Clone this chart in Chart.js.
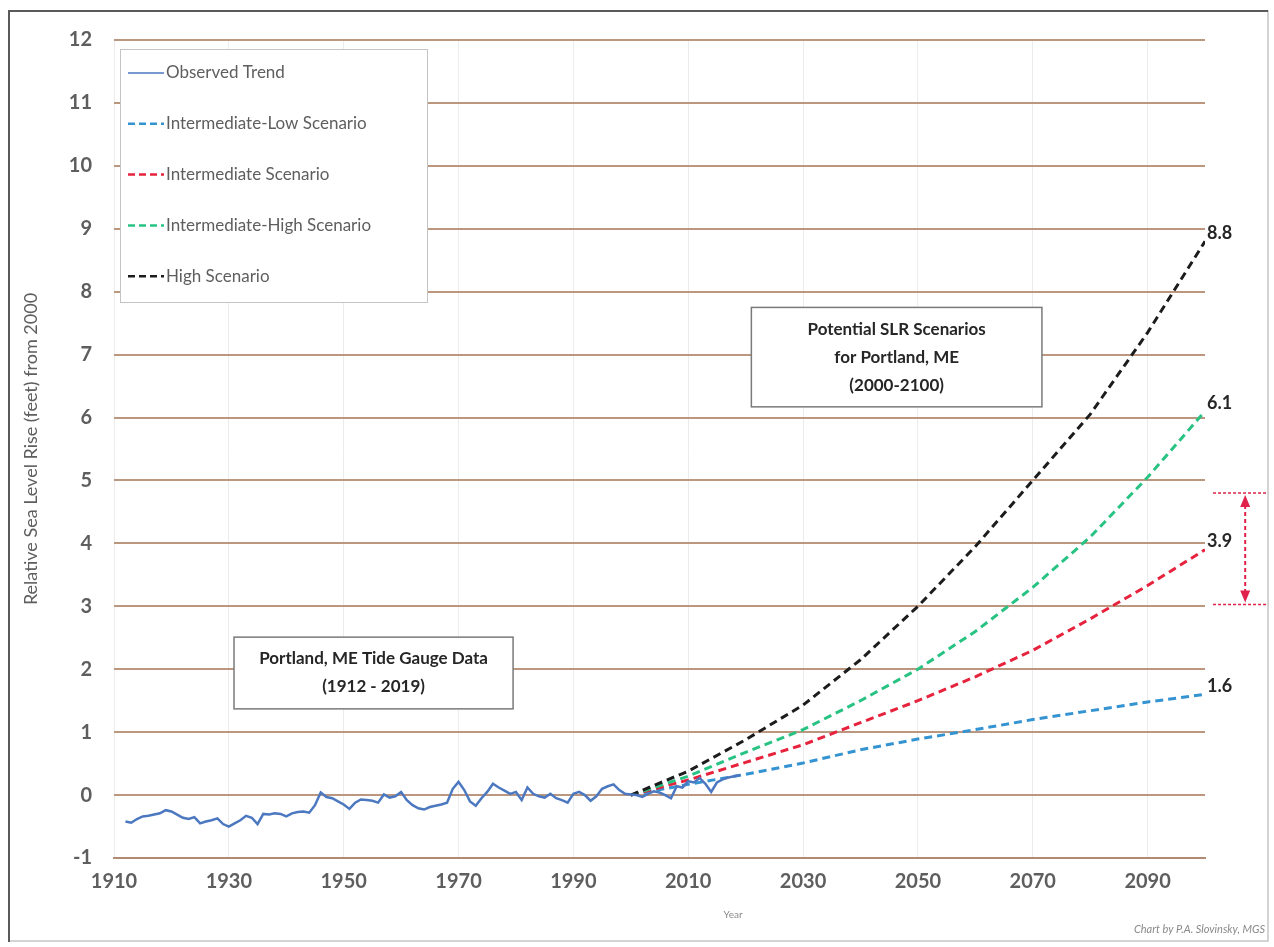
<!DOCTYPE html>
<html>
<head>
<meta charset="utf-8">
<script src="https://cdn.jsdelivr.net/npm/chart.js@4.4.1/dist/chart.umd.min.js"></script>
<style>
  body { margin: 0; background: #fff; }
  canvas { display: block; }
</style>
</head>
<body>
<canvas id="grafico" width="1274" height="947"></canvas>
<script>
// ================= DADOS =================
const anosObservados = [
  1912, 1913, 1914, 1915, 1916, 1917, 1918, 1919, 1920, 1921,
  1922, 1923, 1924, 1925, 1926, 1927, 1928, 1929, 1930, 1931,
  1932, 1933, 1934, 1935, 1936, 1937, 1938, 1939, 1940, 1941,
  1942, 1943, 1944, 1945, 1946, 1947, 1948, 1949, 1950, 1951,
  1952, 1953, 1954, 1955, 1956, 1957, 1958, 1959, 1960, 1961,
  1962, 1963, 1964, 1965, 1966, 1967, 1968, 1969, 1970, 1971,
  1972, 1973, 1974, 1975, 1976, 1977, 1978, 1979, 1980, 1981,
  1982, 1983, 1984, 1985, 1986, 1987, 1988, 1989, 1990, 1991,
  1992, 1993, 1994, 1995, 1996, 1997, 1998, 1999, 2000, 2001,
  2002, 2003, 2004, 2005, 2006, 2007, 2008, 2009, 2010, 2011,
  2012, 2013, 2014, 2015, 2016, 2017, 2018, 2019
];
const nivelObservado = [
  -0.42, -0.44, -0.38, -0.34, -0.33, -0.31, -0.29, -0.24, -0.26, -0.31,
  -0.36, -0.38, -0.35, -0.45, -0.42, -0.40, -0.37, -0.46, -0.50, -0.45,
  -0.40, -0.33, -0.36, -0.46, -0.30, -0.31, -0.29, -0.30, -0.34, -0.29,
  -0.27, -0.26, -0.28, -0.16, 0.04, -0.03, -0.05, -0.10, -0.15, -0.22,
  -0.12, -0.07, -0.08, -0.09, -0.12, 0.01, -0.04, -0.02, 0.05, -0.08,
  -0.16, -0.21, -0.23, -0.19, -0.17, -0.15, -0.12, 0.10, 0.21, 0.08,
  -0.10, -0.17, -0.05, 0.05, 0.18, 0.12, 0.07, 0.02, 0.05, -0.08,
  0.12, 0.02, -0.02, -0.04, 0.02, -0.05, -0.08, -0.12, 0.02, 0.05,
  0.00, -0.09, -0.02, 0.10, 0.14, 0.17, 0.08, 0.02, 0.01, 0.00,
  -0.03, 0.02, 0.06, 0.04, 0.00, -0.05, 0.14, 0.12, 0.22, 0.20,
  0.27, 0.18, 0.05, 0.20, 0.25, 0.28, 0.30, 0.32
];

const anosCenarios = [2000, 2010, 2020, 2030, 2040, 2050, 2060, 2070, 2080, 2090, 2100];
const cenarioIntBaixo = [0, 0.17, 0.33, 0.51, 0.72, 0.89, 1.04, 1.20, 1.34, 1.48, 1.6];
const cenarioIntermediario = [0, 0.24, 0.52, 0.80, 1.15, 1.50, 1.88, 2.30, 2.80, 3.33, 3.9];
const cenarioIntAlto = [0, 0.30, 0.68, 1.04, 1.50, 2.00, 2.60, 3.30, 4.10, 5.05, 6.1];
const cenarioAlto = [0, 0.38, 0.88, 1.43, 2.15, 3.00, 3.95, 5.00, 6.05, 7.35, 8.8];

const rotulosX = [1910, 1930, 1950, 1970, 1990, 2010, 2030, 2050, 2070, 2090];
const rotulosY = [-1, 0, 1, 2, 3, 4, 5, 6, 7, 8, 9, 10, 11, 12];

// faixa marcada pela seta vermelha (pés)
const faixaSeta = [3.03, 4.8];

// ================= ESTILO =================
const fonte = 'Lato, "Noto Sans", sans-serif';
const cinzaTexto = '#5e5e5e';

function pontos(xs, ys) {
  return xs.map((x, i) => ({ x: x, y: ys[i] }));
}

function serieCenario(label, ys, cor, ordem) {
  return {
    label: label,
    data: pontos(anosCenarios, ys),
    borderColor: cor,
    borderWidth: 3,
    borderDash: [8, 5],
    pointRadius: 0,
    tension: 0,
    order: ordem,
    fill: false
  };
}

// ================= PLUGINS =================
// fundo branco e moldura
const moldura = {
  id: 'moldura',
  beforeDraw(chart) {
    const c = chart.ctx;
    c.save();
    c.fillStyle = '#fff';
    c.fillRect(0, 0, chart.width, chart.height);
    c.restore();
  },
  afterDraw(chart) {
    const c = chart.ctx;
    c.save();
    c.lineWidth = 2;
    c.strokeStyle = '#d4d4d4';
    c.strokeRect(9, 11, 1259, 930);
    c.strokeStyle = '#5a5a5a';
    c.beginPath();
    c.moveTo(9, 942);
    c.lineTo(9, 11);
    c.lineTo(1268, 11);
    c.stroke();

    // título do eixo x e crédito
    c.fillStyle = '#8a8a8a';
    c.font = '10px ' + fonte;
    c.textAlign = 'center';
    c.textBaseline = 'middle';
    c.fillText('Year', 733, 915);
    c.font = 'italic 11px ' + fonte;
    c.textAlign = 'right';
    c.fillText('Chart by P.A. Slovinsky, MGS', 1265, 929);

    // título do eixo y
    c.translate(31, (chart.chartArea.top + chart.chartArea.bottom) / 2);
    c.rotate(-Math.PI / 2);
    c.font = '18px ' + fonte;
    c.fillStyle = cinzaTexto;
    c.textAlign = 'center';
    c.fillText('Relative Sea Level Rise (feet) from 2000', 0, 0);
    c.restore();
  }
};

// legenda dentro da área do gráfico
const legendaInterna = {
  id: 'legendaInterna',
  afterDatasetsDraw(chart) {
    const c = chart.ctx;
    const x0 = 120, y0 = 49, w = 307, h = 253;
    c.save();
    c.fillStyle = '#fff';
    c.fillRect(x0, y0, w, h);
    c.strokeStyle = '#c4c4c4';
    c.lineWidth = 1;
    c.strokeRect(x0 + 0.5, y0 + 0.5, w, h);

    c.font = '17px ' + fonte;
    c.textBaseline = 'middle';
    c.textAlign = 'left';
    chart.data.datasets.forEach((ds, i) => {
      const y = 73 + i * 50.8;
      c.strokeStyle = ds.borderColor;
      c.lineWidth = ds.borderDash ? 2.5 : 1.5;
      c.setLineDash(ds.borderDash ? [7, 4] : []);
      c.beginPath();
      c.moveTo(128, y);
      c.lineTo(164, y);
      c.stroke();
      c.setLineDash([]);
      c.fillStyle = cinzaTexto;
      c.fillText(ds.label, 166, y);
    });
    c.restore();
  }
};

// caixas de texto ancoradas nas escalas
const caixasTexto = [
  { x: [2021, 2071.6], y: [7.75, 6.17], linhas: ['Potential SLR Scenarios', 'for Portland, ME', '(2000-2100)'], passo: 28 },
  { x: [1930.9, 1979.5], y: [2.51, 1.37], linhas: ['Portland, ME Tide Gauge Data', '(1912 - 2019)'], passo: 28 }
];

const caixas = {
  id: 'caixas',
  afterDatasetsDraw(chart) {
    const c = chart.ctx;
    const sx = chart.scales.x, sy = chart.scales.y;
    c.save();
    caixasTexto.forEach(cx => {
      const l = sx.getPixelForValue(cx.x[0]);
      const r = sx.getPixelForValue(cx.x[1]);
      const t = sy.getPixelForValue(cx.y[0]);
      const b = sy.getPixelForValue(cx.y[1]);
      c.fillStyle = '#fff';
      c.fillRect(l, t, r - l, b - t);
      c.strokeStyle = '#7a7a7a';
      c.lineWidth = 1.5;
      c.strokeRect(l, t, r - l, b - t);
      c.fillStyle = '#262626';
      c.font = 'bold 17px ' + fonte;
      c.textAlign = 'center';
      c.textBaseline = 'middle';
      const meio = (t + b) / 2;
      const n = cx.linhas.length;
      cx.linhas.forEach((txt, k) => {
        c.fillText(txt, (l + r) / 2, meio + (k - (n - 1) / 2) * cx.passo);
      });
    });
    c.restore();
  }
};

// valores finais dos cenários
const rotulosFinais = {
  id: 'rotulosFinais',
  afterDatasetsDraw(chart) {
    const c = chart.ctx;
    c.save();
    c.font = 'bold 18px ' + fonte;
    c.fillStyle = '#262626';
    c.textAlign = 'left';
    c.textBaseline = 'middle';
    chart.data.datasets.forEach((ds, i) => {
      if (!ds.borderDash) return;
      const meta = chart.getDatasetMeta(i);
      const ult = meta.data[meta.data.length - 1];
      const valor = ds.data[ds.data.length - 1].y;
      c.fillText(valor.toFixed(1), ult.x + 2, ult.y - 8);
    });
    c.restore();
  }
};

// seta vermelha pontilhada
const seta = {
  id: 'seta',
  afterDraw(chart) {
    const c = chart.ctx;
    const sx = chart.scales.x, sy = chart.scales.y;
    const xm = sx.getPixelForValue(2107);
    const xa = sx.getPixelForValue(2101.4);
    const xb = sx.getPixelForValue(2111);
    const yTop = sy.getPixelForValue(faixaSeta[1]);
    const yBot = sy.getPixelForValue(faixaSeta[0]);
    c.save();
    c.strokeStyle = '#e0224a';
    c.fillStyle = '#e0224a';
    c.lineWidth = 1.5;
    c.setLineDash([3, 2]);
    c.beginPath();
    c.moveTo(xa, yTop); c.lineTo(xb, yTop);
    c.moveTo(xa, yBot); c.lineTo(xb, yBot);
    c.stroke();
    c.lineWidth = 2;
    c.setLineDash([4, 3]);
    c.beginPath();
    c.moveTo(xm, yTop + 12); c.lineTo(xm, yBot - 12);
    c.stroke();
    c.setLineDash([]);
    c.beginPath();
    c.moveTo(xm, yTop + 2); c.lineTo(xm - 5, yTop + 14); c.lineTo(xm + 5, yTop + 14); c.closePath();
    c.moveTo(xm, yBot - 2); c.lineTo(xm - 5, yBot - 14); c.lineTo(xm + 5, yBot - 14); c.closePath();
    c.fill();
    c.restore();
  }
};

// ================= GRÁFICO =================
const ctx = document.getElementById('grafico').getContext('2d');

new Chart(ctx, {
  type: 'line',
  data: {
    datasets: [
      {
        label: 'Observed Trend',
        data: pontos(anosObservados, nivelObservado),
        borderColor: '#4c78c0',
        borderWidth: 2.5,
        pointRadius: 0,
        tension: 0,
        order: 0,
        fill: false
      },
      serieCenario('Intermediate-Low Scenario', cenarioIntBaixo, '#3493d1', 4),
      serieCenario('Intermediate Scenario', cenarioIntermediario, '#e6223c', 3),
      serieCenario('Intermediate-High Scenario', cenarioIntAlto, '#28c283', 2),
      serieCenario('High Scenario', cenarioAlto, '#1c1c1c', 1)
    ]
  },
  options: {
    responsive: false,
    animation: false,
    layout: { padding: { left: 0, right: 69, top: 40, bottom: 0 } },
    plugins: {
      legend: { display: false },
      tooltip: { enabled: false }
    },
    scales: {
      x: {
        type: 'linear',
        min: 1910,
        max: 2100,
        afterBuildTicks: s => { s.ticks = rotulosX.map(v => ({ value: v })); },
        afterFit: s => { s.height = 89; },
        ticks: {
          font: { family: fonte, size: 20, weight: 'bold' },
          color: cinzaTexto,
          padding: 12,
          maxRotation: 0,
          autoSkip: false,
          callback: v => String(v)
        },
        grid: { color: '#ececec', lineWidth: 1, drawTicks: false },
        border: { color: '#b08a72', width: 2 }
      },
      y: {
        type: 'linear',
        min: -1,
        max: 12,
        afterBuildTicks: s => { s.ticks = rotulosY.map(v => ({ value: v })); },
        afterFit: s => { s.width = 114; },
        ticks: {
          font: { family: fonte, size: 20, weight: 'bold' },
          color: cinzaTexto,
          padding: 22
        },
        grid: { color: '#bc9780', lineWidth: 2, drawTicks: false },
        border: { display: false }
      }
    }
  },
  plugins: [moldura, legendaInterna, caixas, rotulosFinais, seta]
});
</script>
</body>
</html>
